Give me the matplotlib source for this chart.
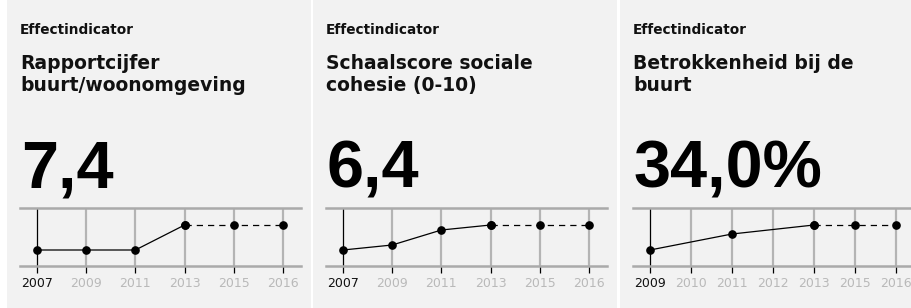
import matplotlib
matplotlib.use("Agg")
import matplotlib.pyplot as plt
from matplotlib.patches import Rectangle

# ---- data ----
kicker = "Effectindicator"
titles = ["Rapportcijfer\nbuurt/woonomgeving",
          "Schaalscore sociale\ncohesie (0-10)",
          "Betrokkenheid bij de\nbuurt"]
headline = ["7,4", "6,4", "34,0%"]

years_1 = ["2007", "2009", "2011", "2013", "2015", "2016"]
measured_1 = [7.0, 7.0, 7.0, 7.4]
target_1 = [7.4, 7.4, 7.4]          # 2013, 2015, 2016

years_2 = ["2007", "2009", "2011", "2013", "2015", "2016"]
measured_2 = [5.9, 6.0, 6.3, 6.4]
target_2 = [6.4, 6.4, 6.4]

years_3 = ["2009", "2010", "2011", "2012", "2013", "2015", "2016"]
measured_years_3 = ["2009", "2011", "2013"]
measured_3 = [29.0, 32.2, 34.0]
target_years_3 = ["2013", "2015", "2016"]
target_3 = [34.0, 34.0, 34.0]

W, H = 912, 308
fig = plt.figure(figsize=(W / 100, H / 100), dpi=100)
fig.patch.set_facecolor("white")

def fx(px):
    return px / W

def fy(py):
    return 1 - py / H

panel_left = [7, 313, 620]
panel_w = 298 + 6

panels = [
    (years_1, years_1[:4], measured_1, years_1[3:], target_1),
    (years_2, years_2[:4], measured_2, years_2[3:], target_2),
    (years_3, measured_years_3, measured_3, target_years_3, target_3),
]

GRID = "#b4b4b4"
TXT = "#111111"

for i, (cats, my, mv, ty, tv) in enumerate(panels):
    L = panel_left[i]
    fig.patches.append(Rectangle((fx(L), fy(308)), fx(panel_w), 308 / H,
                                 transform=fig.transFigure, facecolor="#f2f2f2",
                                 edgecolor="none", zorder=-5))
    fig.text(fx(L + 13), fy(30), kicker, fontsize=9.8, fontweight="bold",
             color=TXT, va="center", ha="left")
    fig.text(fx(L + 13), fy(91), titles[i], fontsize=13.5, fontweight="bold",
             color=TXT, va="baseline", ha="left", linespacing=1.2)
    fig.text(fx(L + 14), fy(187), headline[i], fontsize=48, fontweight="bold",
             family="Liberation Sans", color="black", va="baseline", ha="left")

    # sparkline axes
    ax_l, ax_w = L + 13, 281
    top, bot = 208, 266
    ax = fig.add_axes([fx(ax_l), fy(bot), fx(ax_w), (bot - top) / H])
    ax.set_facecolor("none")
    ax.set_zorder(2)
    n = len(cats)
    pos = {c: k for k, c in enumerate(cats)}
    span = 246
    unit = span / (n - 1)
    ax.set_xlim(-17 / unit, (n - 1) + (ax_w - 17 - span) / unit)
    allv = list(mv) + list(tv)
    vmin, vmax = min(allv), max(allv)
    r = vmax - vmin
    ax.set_ylim(vmin - 16 / 25 * r, vmax + 17 / 25 * r)

    for k in range(1, n):
        ax.axvline(k, color=GRID, lw=1.6, zorder=1)
    ax.axvline(0, color="black", lw=0.9, zorder=2)

    ax.plot([pos[c] for c in my], mv, color="black", lw=0.9, marker="o",
            ms=5.2, zorder=3, clip_on=False)
    ax.plot([pos[c] for c in ty], tv, color="black", lw=0.9, ls=(0, (5, 4)),
            marker="o", ms=5.2, zorder=3, clip_on=False)

    for s in ["left", "right"]:
        ax.spines[s].set_visible(False)
    for s in ["top", "bottom"]:
        ax.spines[s].set_color("#aaaaaa")
        ax.spines[s].set_linewidth(1.8)
    ax.set_yticks([])
    ax.set_xticks(range(n))
    ax.set_xticklabels(cats, fontsize=9)
    ax.tick_params(axis="x", direction="out", length=5, width=0.9,
                   color="black", pad=3)
    for k, lab in enumerate(ax.get_xticklabels()):
        lab.set_color(TXT if k == 0 else "#b9b9b9")

fig.savefig("out.png", dpi=100, facecolor="white")
